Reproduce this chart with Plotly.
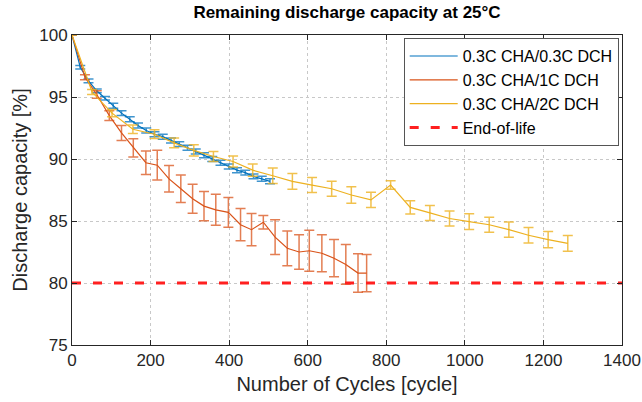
import plotly.graph_objects as go

# ---- data ----
blue_x = [0, 21, 42, 63, 84, 105, 126, 147, 168, 189, 210, 231, 252, 273, 294, 315,
          336, 357, 378, 399, 420, 441, 462, 483, 504]
blue_y = [100, 97.4, 96.3, 95.5, 94.9, 94.3, 93.7, 93.2, 92.7, 92.3, 92.0, 91.8, 91.5,
          91.2, 90.9, 90.6, 90.3, 90.0, 89.7, 89.4, 89.1, 88.9, 88.6, 88.4, 88.2]
blue_err = [0, 0.15, 0.15, 0.15, 0.15, 0.2, 0.2, 0.2, 0.2, 0.2, 0.2, 0.2, 0.2, 0.2,
            0.2, 0.2, 0.2, 0.2, 0.2, 0.2, 0.2, 0.2, 0.2, 0.2, 0.2]

red_x = [0, 33, 63, 95, 126, 156, 188, 217, 247, 277, 307, 336, 366, 398, 429, 457,
         487, 517, 548, 578, 604, 636, 667, 697, 728, 750]
red_y = [100, 96.6, 95.2, 93.5, 92.1, 90.9, 89.7, 89.5, 88.4, 87.6, 86.8, 86.2, 85.9,
         85.7, 84.7, 84.3, 84.9, 83.7, 82.8, 82.5, 82.6, 82.4, 82.0, 81.5, 80.8, 80.8]
red_err = [0, 0.2, 0.3, 0.4, 0.6, 0.73, 0.94, 1.2, 1.07, 1.1, 1.17, 1.18, 1.25, 1.2,
           1.3, 1.3, 0.54, 1.4, 1.4, 1.4, 1.65, 1.5, 1.5, 1.6, 1.55, 1.5]

yel_x = [0, 51, 102, 155, 210, 260, 310, 360, 410, 460, 511, 561, 611, 661, 711, 761,
         811, 861, 911, 961, 1011, 1062, 1112, 1162, 1212, 1262]
yel_y = [100, 95.4, 93.7, 92.4, 92.0, 91.3, 90.7, 90.2, 89.8, 89.1, 88.65, 88.2, 87.9,
         87.6, 87.1, 86.7, 87.9, 86.1, 85.65, 85.2, 84.95, 84.7, 84.3, 83.85, 83.5, 83.2]
yel_err = [0, 0.2, 0.3, 0.35, 0.35, 0.4, 0.45, 0.4, 0.45, 0.5, 0.63, 0.63, 0.6, 0.6,
           0.66, 0.62, 0.34, 0.54, 0.6, 0.6, 0.63, 0.6, 0.62, 0.63, 0.66, 0.63]

eol_x = [0, 1400]
eol_y = [80, 80]

FONT = "Liberation Sans, Arial, sans-serif"

fig = go.Figure()

def add_series(x, y, err, color, ecolor, name, cap):
    fig.add_trace(go.Scatter(
        x=x, y=y, mode="lines", name=name,
        line=dict(color=color, width=1.2),
        error_y=dict(type="data", array=err, visible=True, color=ecolor,
                     thickness=1.5, width=cap),
    ))

add_series(blue_x, blue_y, blue_err, "#0072BD", "rgba(0,114,189,0.75)", "0.3C CHA/0.3C DCH", 5)
add_series(red_x, red_y, red_err, "#D95319", "rgba(217,83,25,0.75)", "0.3C CHA/1C DCH", 5)
add_series(yel_x, yel_y, yel_err, "#EDB120", "rgba(237,177,32,0.8)", "0.3C CHA/2C DCH", 5)

fig.add_trace(go.Scatter(
    x=eol_x, y=eol_y, mode="lines", name="End-of-life",
    line=dict(color="#FF2020", width=3, dash="9px,12px"),
))

axis_common = dict(
    showline=True, linecolor="#262626", linewidth=1, mirror="ticks",
    ticks="inside", ticklen=5, tickcolor="#262626",
    showgrid=True, gridcolor="#c8c8c8", griddash="dot", gridwidth=1,
    zeroline=False, automargin=False,
    tickfont=dict(size=17, color="#262626", family=FONT),
)

fig.update_layout(
    width=642, height=402,
    margin=dict(l=72, r=20, t=35, b=57),
    paper_bgcolor="white", plot_bgcolor="white",
    font=dict(family=FONT, color="#262626"),
    title=dict(text="<b>Remaining discharge capacity at 25°C</b>",
               x=0.5405, xanchor="center", y=0.985, yanchor="top",
               font=dict(size=17, color="#000000", family=FONT)),
    xaxis=dict(range=[0, 1400], dtick=200,
               title=dict(text="Number of Cycles [cycle]", font=dict(size=20, family=FONT), standoff=7),
               **axis_common),
    yaxis=dict(range=[75, 100], dtick=5,
               title=dict(text="Discharge capacity [%]", font=dict(size=20, family=FONT), standoff=6),
               **axis_common),
    legend=dict(x=0.994, y=0.99, xanchor="right", yanchor="top",
                bgcolor="white", bordercolor="#555555", borderwidth=1,
                font=dict(size=16, family=FONT, color="#000000"),
                tracegroupgap=0, itemwidth=48),
    showlegend=True,
)

fig.write_html("out.html")
